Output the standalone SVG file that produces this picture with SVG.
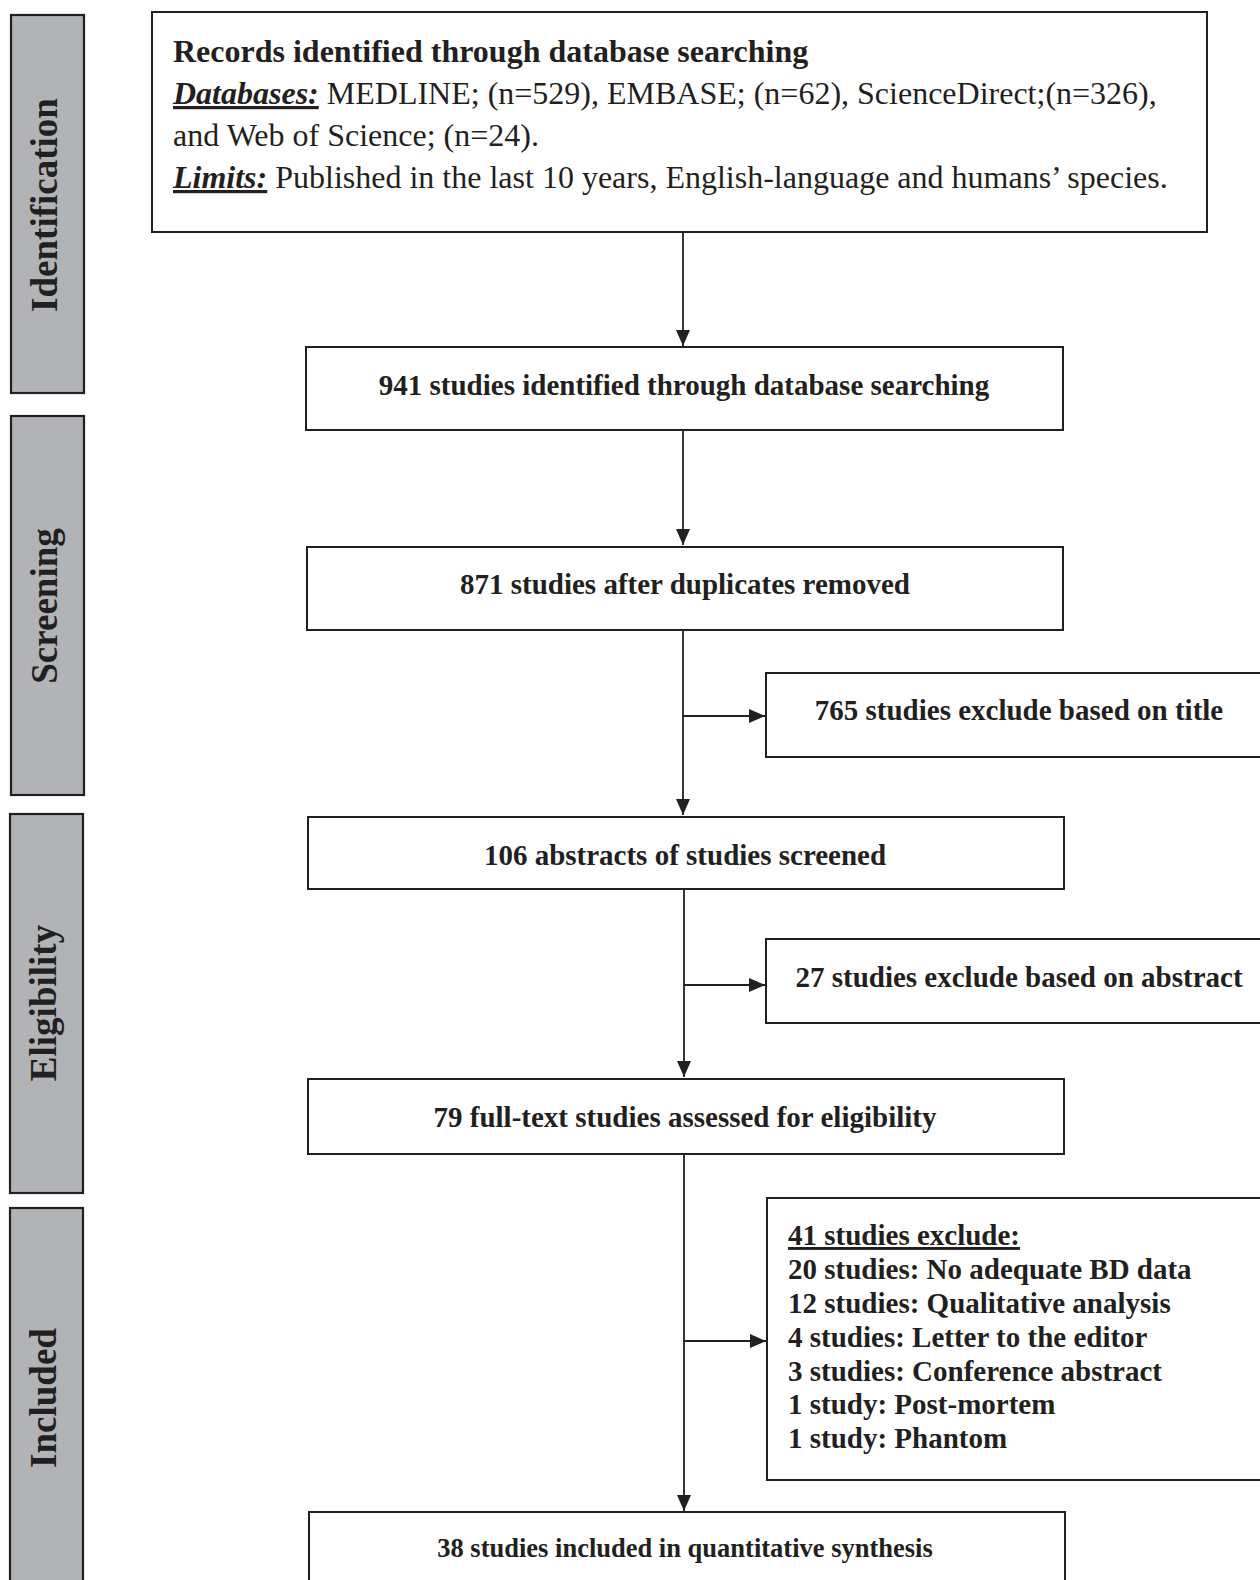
<svg xmlns="http://www.w3.org/2000/svg" width="1260" height="1580" viewBox="0 0 1260 1580">
<style>
.box{fill:#ffffff;stroke:#231f20;stroke-width:2}
.bar{fill:#b1b3b6;stroke:#231f20;stroke-width:2.2}
.lbl{font-family:"Liberation Serif","Times New Roman",serif;font-weight:bold;font-size:37px;fill:#231f20;text-anchor:middle}
.t{font-family:"Liberation Serif","Times New Roman",serif;font-size:32px;fill:#231f20}
.b{font-family:"Liberation Serif","Times New Roman",serif;font-weight:bold;font-size:29px;fill:#231f20}
.small{font-size:26.5px}
.c{text-anchor:middle}
.con{fill:none;stroke:#231f20;stroke-width:1.8}
</style>
<defs>
<marker id="ah" markerUnits="userSpaceOnUse" markerWidth="16" markerHeight="14" refX="16" refY="7" orient="auto">
<path d="M0,0 L16,7 L0,14 Z" fill="#231f20"/>
</marker>
</defs>
<rect width="1260" height="1580" fill="#ffffff"/>

<g id="stage-identification">
<rect class="bar" x="11" y="15" width="73" height="378"/>
<text class="lbl" transform="translate(57,205) rotate(-90)">Identification</text>
</g>
<g id="stage-screening">
<rect class="bar" x="11" y="416" width="73" height="379"/>
<text class="lbl" transform="translate(57,606) rotate(-90)">Screening</text>
</g>
<g id="stage-eligibility">
<rect class="bar" x="10" y="814" width="73" height="379"/>
<text class="lbl" transform="translate(56,1003) rotate(-90)">Eligibility</text>
</g>
<g id="stage-included">
<rect class="bar" x="10" y="1208" width="73" height="390"/>
<text class="lbl" transform="translate(56,1398) rotate(-90)">Included</text>
</g>

<g id="connectors">
<line class="con" x1="683" y1="232" x2="683" y2="346" marker-end="url(#ah)"/>
<line class="con" x1="683" y1="430" x2="683" y2="545" marker-end="url(#ah)"/>
<line class="con" x1="683" y1="630" x2="683" y2="815" marker-end="url(#ah)"/>
<line class="con" x1="683" y1="716" x2="765" y2="716" marker-end="url(#ah)"/>
<line class="con" x1="684" y1="890" x2="684" y2="1077" marker-end="url(#ah)"/>
<line class="con" x1="684" y1="985" x2="765" y2="985" marker-end="url(#ah)"/>
<line class="con" x1="684" y1="1154" x2="684" y2="1511" marker-end="url(#ah)"/>
<line class="con" x1="684" y1="1341" x2="766" y2="1341" marker-end="url(#ah)"/>
</g>

<g id="records">
<rect class="box" x="152" y="12" width="1055" height="220"/>
<text class="t" x="173" y="62" font-weight="bold">Records identified through database searching</text>
<text class="t" x="173" y="104"><tspan font-weight="bold" font-style="italic" text-decoration="underline">Databases:</tspan> MEDLINE; (n=529), EMBASE; (n=62), ScienceDirect;(n=326),</text>
<text class="t" x="173" y="146">and Web of Science; (n=24).</text>
<text class="t" x="173" y="188"><tspan font-weight="bold" font-style="italic" text-decoration="underline">Limits:</tspan> Published in the last 10 years, English-language and humans’ species.</text>
</g>

<g id="identified">
<rect class="box" x="306" y="347" width="757" height="83"/>
<text class="b c" x="684" y="395">941 studies identified through database searching</text>
</g>

<g id="deduplicated">
<rect class="box" x="307" y="547" width="756" height="83"/>
<text class="b c" x="685" y="594">871 studies after duplicates removed</text>
</g>

<g id="excluded-title">
<rect class="box" x="766" y="673" width="520" height="84"/>
<text class="b c" x="1019" y="720">765 studies exclude based on title</text>
</g>

<g id="abstracts-screened">
<rect class="box" x="308" y="817" width="756" height="72"/>
<text class="b c" x="685" y="865">106 abstracts of studies screened</text>
</g>

<g id="excluded-abstract">
<rect class="box" x="766" y="939" width="520" height="84"/>
<text class="b c" x="1019" y="987">27 studies exclude based on abstract</text>
</g>

<g id="full-text">
<rect class="box" x="308" y="1079" width="756" height="75"/>
<text class="b c" x="685" y="1127">79 full-text studies assessed for eligibility</text>
</g>

<g id="excluded-full-text">
<rect class="box" x="767" y="1198" width="520" height="282"/>
<text class="b" x="788" y="1245" text-decoration="underline">41 studies exclude:</text>
<text class="b" x="788" y="1279">20 studies: No adequate BD data</text>
<text class="b" x="788" y="1313">12 studies: Qualitative analysis</text>
<text class="b" x="788" y="1347">4 studies: Letter to the editor</text>
<text class="b" x="788" y="1381">3 studies: Conference abstract</text>
<text class="b" x="788" y="1414">1 study: Post-mortem</text>
<text class="b" x="788" y="1448">1 study: Phantom</text>
</g>

<g id="included">
<rect class="box" x="309" y="1512" width="756" height="90"/>
<text class="b c small" x="685" y="1557">38 studies included in quantitative synthesis</text>
</g>
</svg>
